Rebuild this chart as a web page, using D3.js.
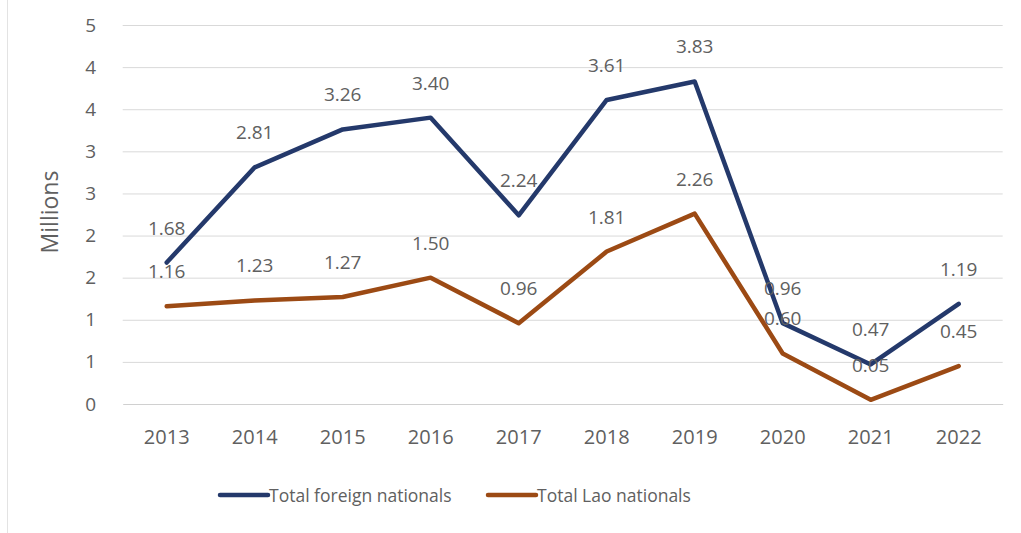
<!DOCTYPE html>
<html>
<head>
<meta charset="utf-8">
<script src="https://cdn.jsdelivr.net/npm/d3@7"></script>
<style>
  html, body { margin: 0; padding: 0; background: #fff; }
  svg { display: block; }
  text { font-family: "Open Sans", "Noto Sans", sans-serif; }
</style>
</head>
<body>
<svg id="chart" width="1021" height="533"></svg>
<script>
const years = ["2013","2014","2015","2016","2017","2018","2019","2020","2021","2022"];
const foreignNationals = [1.68, 2.81, 3.26, 3.40, 2.24, 3.61, 3.83, 0.96, 0.47, 1.19];
const laoNationals = [1.16, 1.23, 1.27, 1.50, 0.96, 1.81, 2.26, 0.60, 0.05, 0.45];
const yTickValues = [0, 0.5, 1, 1.5, 2, 2.5, 3, 3.5, 4, 4.5];
const yTickLabels = ["0", "1", "1", "2", "2", "3", "3", "4", "4", "5"];
const seriesNames = ["Total foreign nationals", "Total Lao nationals"];

const svg = d3.select("#chart");
const W = 1021, H = 533;
const plot = { left: 122.7, right: 1002.7, top: 25, bottom: 404 };
const textColor = "#606060";
const colors = ["#24396b", "#9c4a14"];

// chart border (left edge)
svg.append("line").attr("x1", 7.5).attr("x2", 7.5).attr("y1", 0).attr("y2", H)
  .attr("stroke", "#e3e3e3").attr("stroke-width", 1);

const x = d3.scaleBand().domain(years).range([plot.left, plot.right]);
const cx = d => x(d) + x.bandwidth() / 2;
const y = d3.scaleLinear().domain([0, 4.5]).range([plot.bottom, plot.top]);

// gridlines
const grid = svg.append("g").attr("transform", `translate(${plot.left},0)`)
  .call(d3.axisLeft(y).tickValues(yTickValues.slice(1)).tickSize(-(plot.right - plot.left)).tickFormat(""));
grid.select(".domain").remove();
grid.selectAll("line").attr("stroke", "#d9d9d9").attr("stroke-width", 1);

// y axis labels
const yAxis = svg.append("g").attr("transform", `translate(${plot.left},0)`)
  .call(d3.axisLeft(y).tickValues(yTickValues).tickSize(0).tickPadding(26.5)
    .tickFormat((d, i) => yTickLabels[i]));
yAxis.select(".domain").remove();
yAxis.selectAll("text").attr("fill", textColor).style("font-size", "19px")
  .style("font-family", "'Open Sans', sans-serif");

// x axis
const xAxis = svg.append("g").attr("transform", `translate(0,${plot.bottom})`)
  .call(d3.axisBottom(x).tickSize(0).tickPadding(25.5));
xAxis.select(".domain").attr("stroke", "#d0d0d0").attr("stroke-width", 1);
xAxis.selectAll("text").attr("fill", textColor).style("font-size", "20px")
  .style("font-family", "'Open Sans', sans-serif");

// y title
svg.append("text")
  .attr("transform", `translate(58,212) rotate(-90)`)
  .attr("text-anchor", "middle")
  .attr("fill", textColor)
  .style("font-size", "23px")
  .text("Millions");

// lines
const line = d3.line().x((d, i) => cx(years[i])).y(d => y(d));
const allSeries = [foreignNationals, laoNationals];

allSeries.forEach((vals, si) => {
  svg.append("path").datum(vals)
    .attr("d", line)
    .attr("fill", "none")
    .attr("stroke", colors[si])
    .attr("stroke-width", 4.5)
    .attr("stroke-linejoin", "round")
    .attr("stroke-linecap", "round");
});

// data labels
allSeries.forEach((vals, si) => {
  svg.append("g").selectAll("text").data(vals).join("text")
    .attr("x", (d, i) => cx(years[i]))
    .attr("y", d => y(d) - 28)
    .attr("text-anchor", "middle")
    .attr("fill", textColor)
    .style("font-size", "19px")
    .text(d => d3.format(".2f")(d));
});

// legend
const legendItems = [{ x: 220, name: seriesNames[0], c: colors[0] }, { x: 488, name: seriesNames[1], c: colors[1] }];
const lg = svg.append("g");
legendItems.forEach(it => {
  lg.append("line").attr("x1", it.x).attr("x2", it.x + 48).attr("y1", 495).attr("y2", 495)
    .attr("stroke", it.c).attr("stroke-width", 4.5).attr("stroke-linecap", "round");
  lg.append("text").attr("x", it.x + 49).attr("y", 501.5)
    .attr("fill", textColor).style("font-size", "17.5px").text(it.name);
});
</script>
</body>
</html>
